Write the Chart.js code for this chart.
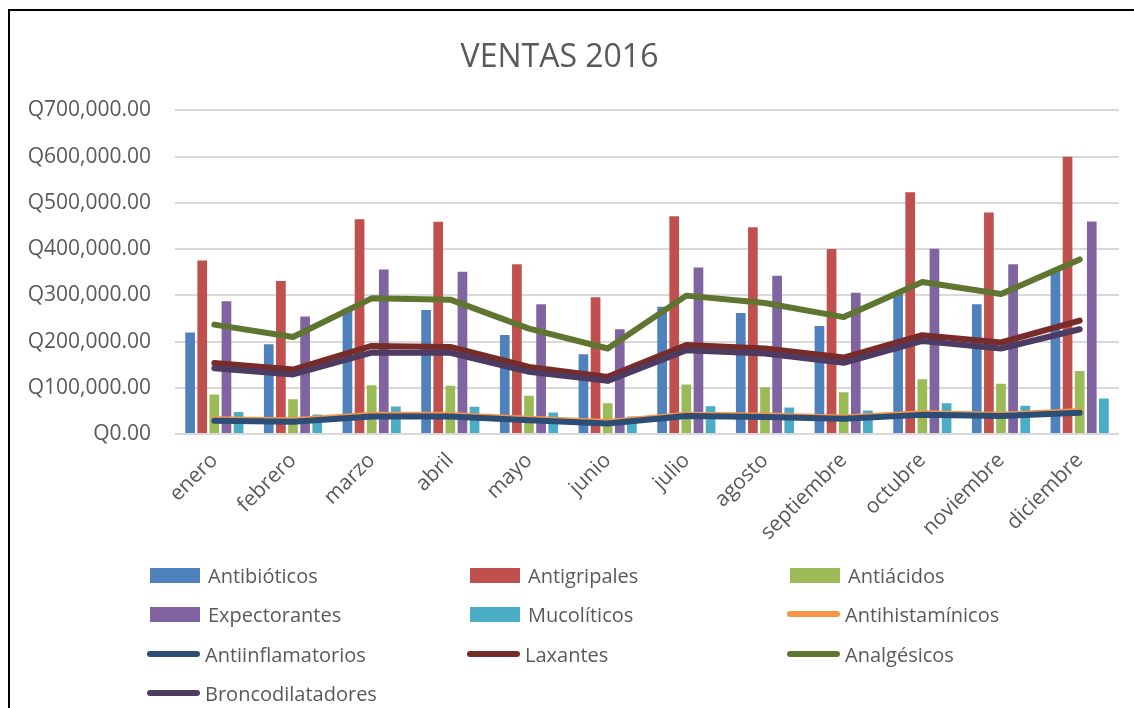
<!DOCTYPE html>
<html lang="es">
<head>
<meta charset="utf-8">
<title>VENTAS 2016</title>
<script src="https://cdn.jsdelivr.net/npm/chart.js@4.4.1/dist/chart.umd.min.js"></script>
<style>
    html, body { margin: 0; padding: 0; background: #fff; }
    body { width: 1134px; height: 708px; position: relative; overflow: hidden; font-family: "Open Sans", sans-serif; }
    #frame { position: absolute; left: 8px; top: 9px; width: 1140px; height: 720px; border: 2px solid #000; box-sizing: border-box; }
    #chart-wrap { position: absolute; left: 0; top: 0; width: 1134px; height: 551px; }
    #legend { position: absolute; left: 0; top: 0; width: 1134px; height: 708px; pointer-events: none; }
    .item { position: absolute; height: 30px; display: flex; align-items: center; color: #595959; font-size: 20px; white-space: nowrap; }
    .swatch-bar { width: 50px; height: 15px; margin-right: 8px; }
    .swatch-line { width: 53px; height: 6px; border-radius: 3px; margin-right: 5px; margin-left: -3px; }
</style>
</head>
<body>
<div id="frame"></div>
<div id="chart-wrap"><canvas id="ventas-chart"></canvas></div>
<div id="legend"></div>
<script>
const meses = ['enero', 'febrero', 'marzo', 'abril', 'mayo', 'junio', 'julio', 'agosto', 'septiembre', 'octubre', 'noviembre', 'diciembre'];

// barras
const antibioticos = [219500, 194300, 271000, 268300, 214400, 172700, 275600, 261800, 233800, 305000, 280600, 352000];
const antigripales = [375600, 331000, 464800, 459000, 367000, 295700, 471000, 447500, 400000, 523000, 479000, 600000];
const antiacidos = [85700, 75500, 105800, 104300, 82700, 66900, 107300, 101400, 90600, 118700, 108600, 136600];
const expectorantes = [287000, 254000, 356000, 351000, 280600, 226600, 360400, 342500, 305800, 400800, 367000, 459700];
const mucoliticos = [47500, 42500, 59700, 59000, 46800, 38200, 60400, 57600, 51000, 66900, 61000, 77000];

// lineas
const antihistaminicos = [32000, 30000, 42000, 41500, 33000, 26000, 42000, 40000, 36000, 45000, 42000, 50000];
const antiinflamatorios = [28800, 26600, 38200, 38000, 30000, 23000, 38900, 37000, 33000, 41500, 38900, 46000];
const laxantes = [153900, 139600, 190600, 188500, 145000, 123700, 192700, 185000, 165500, 213700, 198000, 245400];
const analgesicos = [236700, 210000, 293500, 290700, 228000, 185000, 299400, 283400, 253000, 328700, 302800, 377700];
const broncodilatadores = [142500, 128900, 176300, 175600, 134500, 115000, 181300, 174000, 154000, 201400, 185000, 226600];

const yTicks = [0, 100000, 200000, 300000, 400000, 500000, 600000, 700000];

const textColor = '#595959';
const gridColor = '#d9d9d9';

function barSet(label, data, color) {
    return {
        type: 'bar',
        label: label,
        data: data,
        backgroundColor: color,
        borderWidth: 0,
        categoryPercentage: 0.77,
        barPercentage: 0.8,
        order: 10
    };
}

function lineSet(label, data, color, order) {
    return {
        type: 'line',
        label: label,
        data: data,
        borderColor: color,
        backgroundColor: color,
        borderWidth: 6,
        borderCapStyle: 'round',
        borderJoinStyle: 'round',
        pointRadius: 0,
        tension: 0,
        fill: false,
        order: order
    };
}

const datasets = [
    barSet('Antibióticos', antibioticos, '#4F81BD'),
    barSet('Antigripales', antigripales, '#C0504D'),
    barSet('Antiácidos', antiacidos, '#9BBB59'),
    barSet('Expectorantes', expectorantes, '#8064A2'),
    barSet('Mucolíticos', mucoliticos, '#4BACC6'),
    lineSet('Antihistamínicos', antihistaminicos, '#F79646', 5),
    lineSet('Antiinflamatorios', antiinflamatorios, '#2C4D75', 4),
    lineSet('Laxantes', laxantes, '#772C2A', 3),
    lineSet('Analgésicos', analgesicos, '#5F7530', 2),
    lineSet('Broncodilatadores', broncodilatadores, '#4D3B62', 1)
];

function formatQ(v) {
    return 'Q' + Number(v).toLocaleString('en-US', { minimumFractionDigits: 2, maximumFractionDigits: 2 });
}

const chart = new Chart(document.getElementById('ventas-chart'), {
    data: { labels: meses, datasets: datasets },
    options: {
        responsive: true,
        maintainAspectRatio: false,
        animation: false,
        layout: { padding: { left: 0, right: 15, top: 0, bottom: 0 } },
        plugins: {
            legend: { display: false },
            tooltip: { enabled: false },
            title: {
                display: true,
                text: 'VENTAS 2016',
                color: textColor,
                font: { family: 'Open Sans', size: 32, weight: 'normal' },
                padding: { top: 39, bottom: 33 }
            }
        },
        scales: {
            x: {
                offset: true,
                grid: { display: false },
                border: { display: false },
                ticks: {
                    color: textColor,
                    font: { family: 'Open Sans', size: 21 },
                    minRotation: 45,
                    maxRotation: 45,
                    padding: 6
                }
            },
            y: {
                min: 0,
                max: 700000,
                afterBuildTicks: (scale) => { scale.ticks = yTicks.map(v => ({ value: v })); },
                afterFit: (scale) => { scale.width = 175; },
                grid: { color: gridColor, lineWidth: 2, drawTicks: false },
                border: { display: false },
                ticks: {
                    color: textColor,
                    font: { family: 'Open Sans', size: 21 },
                    padding: 24,
                    callback: (v) => formatQ(v)
                }
            }
        }
    }
});

// leyenda en rejilla de 3 columnas, como en Excel
const colX = [150, 470, 790];
const rowY = [575, 614, 654, 693];
const legend = document.getElementById('legend');
chart.data.datasets.forEach((ds, i) => {
    const item = document.createElement('div');
    item.className = 'item';
    item.style.left = colX[i % 3] + 'px';
    item.style.top = (rowY[Math.floor(i / 3)] - 15) + 'px';
    const sw = document.createElement('span');
    sw.className = ds.type === 'bar' ? 'swatch-bar' : 'swatch-line';
    sw.style.background = ds.type === 'bar' ? ds.backgroundColor : ds.borderColor;
    item.appendChild(sw);
    item.appendChild(document.createTextNode(ds.label));
    legend.appendChild(item);
});
</script>
</body>
</html>
